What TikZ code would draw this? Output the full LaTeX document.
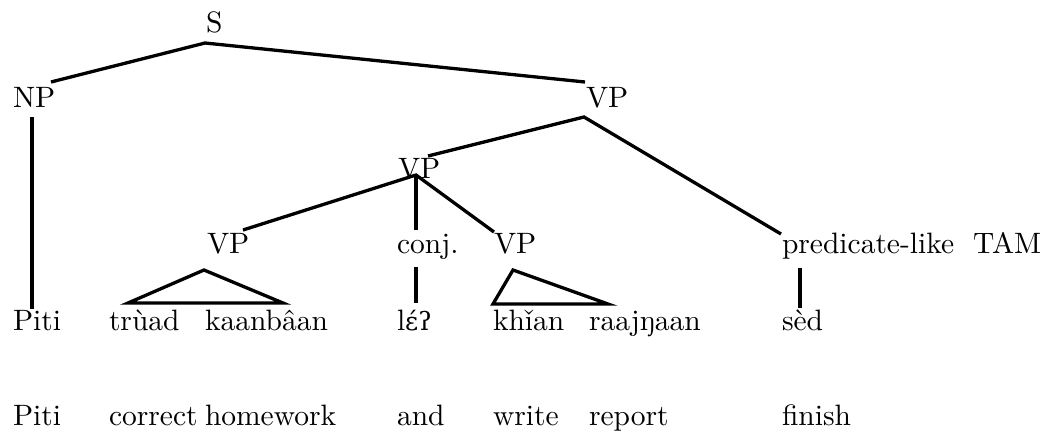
\documentclass[tikz,border=0pt]{standalone}
\usepackage{fontspec}
\setmainfont{lmroman10-regular.otf}[BoldFont=lmroman10-bold.otf,ItalicFont=lmroman10-italic.otf]
\newfontfamily\ipafont{DejaVu Serif}[Scale=0.86]
\newcommand{\ipa}[1]{{\ipafont #1}}
\begin{document}
\begin{tikzpicture}[x=1pt,y=-1pt,
  lbl/.style={anchor=base west,inner sep=0pt,outer sep=0pt,font=\fontsize{29.5}{36}\selectfont},
  edge/.style={line width=3.3pt,line join=miter},
  tri/.style={line width=3.3pt,line join=miter}]
\useasboundingbox (0,0) rectangle (1052,432);
% category row nodes
\node[lbl] (S) at (206,32) {S};
\node[lbl] (NP) at (13,107) {NP};
\node[lbl] (VPt) at (586,107) {VP};
\node[lbl] (VPm) at (398,178) {VP};
\node[lbl] (VPl) at (207,253) {VP};
\node[lbl] (conj) at (397,253) {conj.};
\node[lbl] (VPr) at (494,253) {VP};
\node[lbl] (pred) at (782,253) {predicate-like\hspace{19pt}TAM};
% Thai row
\node[lbl] (w1) at (13,330) {Piti};
\node[lbl] (w2) at (109,330) {trùad};
\node[lbl] (w3) at (205,330) {kaanbâan};
\node[lbl] (w4) at (397,330) {l\ipa{ɛ́ʔ}};
\node[lbl] (w5) at (493,330) {kh\v{\i}an};
\node[lbl] (w6) at (589,330) {raajŋaan};
\node[lbl] (w7) at (782,330) {sèd};
% gloss row
\node[lbl] (g1) at (13,425) {Piti};
\node[lbl] (g2) at (109,425) {correct};
\node[lbl] (g3) at (205,425) {homework};
\node[lbl] (g4) at (397,425) {and};
\node[lbl] (g5) at (493,425) {write};
\node[lbl] (g6) at (589,425) {report};
\node[lbl] (g7) at (782,425) {finish};
% attachment points
\coordinate (S-d) at ([shift={(-1,11)}]S.base west);
\coordinate (NP-u) at ([shift={(38,-25)}]NP.base west);
\coordinate (NP-d) at ([shift={(19,10)}]NP.base west);
\coordinate (VPt-u) at ([shift={(-1,-25)}]VPt.base west);
\coordinate (VPt-d) at ([shift={(-2,10)}]VPt.base west);
\coordinate (VPm-u) at ([shift={(30,-22)}]VPm.base west);
\coordinate (VPm-d) at ([shift={(18,-3)}]VPm.base west);
\coordinate (VPl-u) at ([shift={(36,-23)}]VPl.base west);
\coordinate (VPl-d) at ([shift={(-3,17)}]VPl.base west);
\coordinate (conj-u) at ([shift={(19,-23)}]conj.base west);
\coordinate (conj-d) at ([shift={(19,14)}]conj.base west);
\coordinate (VPr-u) at ([shift={(0,-21)}]VPr.base west);
\coordinate (VPr-d) at ([shift={(19,17)}]VPr.base west);
\coordinate (pred-u) at ([shift={(-1,-19)}]pred.base west);
\coordinate (pred-d) at ([shift={(18,15)}]pred.base west);
\coordinate (w1-u) at ([shift={(19,-21)}]w1.base west);
\coordinate (w2-u) at ([shift={(19,-27)}]w2.base west);
\coordinate (w3-u) at ([shift={(78,-27)}]w3.base west);
\coordinate (w4-u) at ([shift={(19,-27)}]w4.base west);
\coordinate (w5-u) at ([shift={(0,-26)}]w5.base west);
\coordinate (w6-u) at ([shift={(19,-26)}]w6.base west);
\coordinate (w7-u) at ([shift={(18,-22)}]w7.base west);
% connectors
\draw[edge] (NP-u) -- (S-d) -- (VPt-u);
\draw[edge] (NP-d) -- (w1-u);
\draw[edge] (VPm-u) -- (VPt-d) -- (pred-u);
\draw[edge] (VPl-u) -- (VPm-d) -- (VPr-u);
\draw[edge] (VPm-d) -- (conj-u);
\draw[edge] (conj-d) -- (w4-u);
\draw[edge] (pred-d) -- (w7-u);
% triangles
\draw[tri] (VPl-d) -- (w2-u) -- (w3-u) -- cycle;
\draw[tri] (VPr-d) -- (w5-u) -- (w6-u) -- cycle;
\end{tikzpicture}
\end{document}
